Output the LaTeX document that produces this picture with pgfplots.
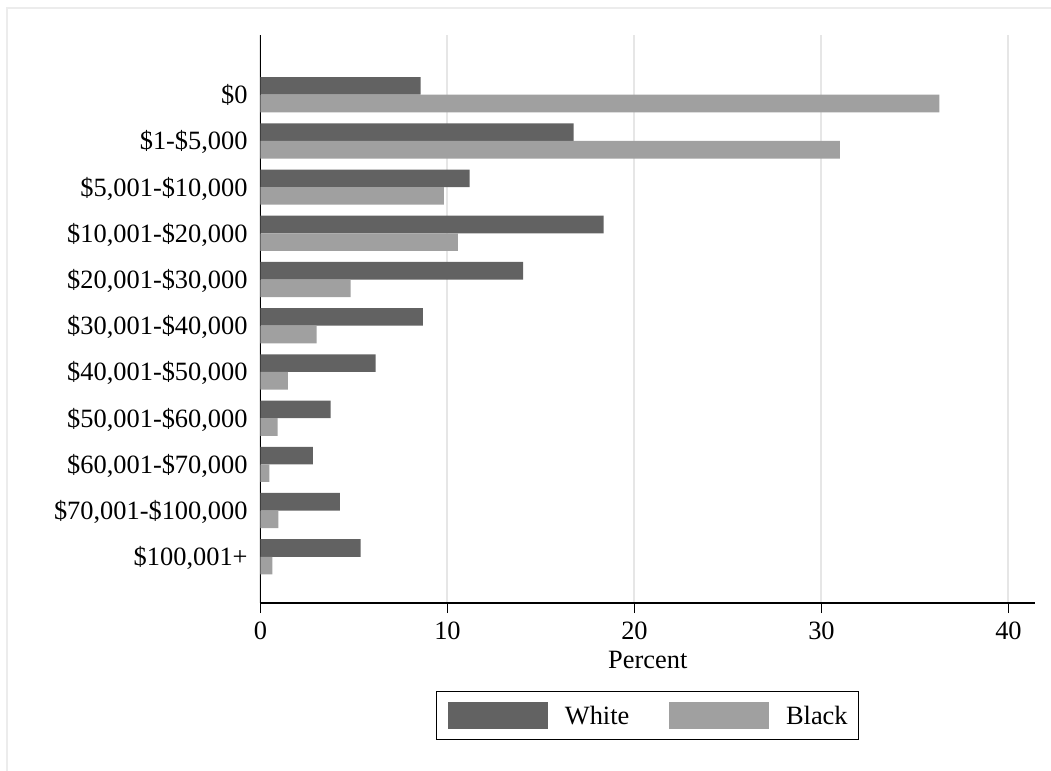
\documentclass[border=0pt]{standalone}
\usepackage{pgfplots}
\pgfplotsset{compat=1.18}
\usepackage{fontspec}
\setmainfont{Liberation Serif}
\definecolor{wbar}{RGB}{98,98,98}
\definecolor{bbar}{RGB}{160,160,160}
\definecolor{gridc}{RGB}{230,230,230}
\definecolor{framec}{RGB}{236,236,236}
\pgfplotsset{
  mylegend/.style={legend image code/.code={\fill[##1] (0pt,-2.3pt) rectangle (50pt,11.05pt);}}
}
\begin{document}
\fontsize{13.2}{15.8}\selectfont
\begin{tikzpicture}
\useasboundingbox (-130.25pt,-84pt) rectangle (395.25pt,301.5pt);
\draw[framec, line width=1pt] (-126.9pt,-84pt) -- (-126.9pt,297.5pt) -- (395.25pt,297.5pt);
\begin{axis}[
  at={(0pt,0pt)}, anchor=south west,
  scale only axis, width=387.25pt, height=284pt,
  xmin=0, xmax=41.42, ymin=-1.0, ymax=11.292,
  axis x line*=bottom, axis y line*=left,
  axis line style={-, line width=0.6pt, black},
  xtick={0,10,20,30,40},
  xmajorgrids, grid style={gridc, line width=1pt},
  tick align=outside, major tick length=5pt,
  x tick style={black, line width=0.6pt},
  y tick style={draw=none},
  ytick={0,1,2,3,4,5,6,7,8,9,10},
  yticklabels={{\$100,001+},{\$70,001-\$100,000},{\$60,001-\$70,000},{\$50,001-\$60,000},{\$40,001-\$50,000},{\$30,001-\$40,000},{\$20,001-\$30,000},{\$10,001-\$20,000},{\$5,001-\$10,000},{\$1-\$5,000},{\$0}},
  yticklabel style={anchor=base east, inner sep=0pt, xshift=-1.25pt, yshift=-4.46pt},
  xticklabel style={anchor=north, inner sep=0pt, yshift=-4.35pt},
  /pgf/number format/assume math mode=true,
  xlabel={Percent},
  xlabel style={at={(axis description cs:0.5,0)}, anchor=north, inner sep=0pt, yshift=-24pt},
  legend columns=2,
  legend style={at={(0.5,-0.15493)}, anchor=north, draw=black, line width=0.6pt,
    inner xsep=5.5pt, inner ysep=5.4pt,
    nodes={inner sep=0pt, anchor=base west},
    /tikz/every odd column/.append style={column sep=8.5pt},
    /tikz/every even column/.append style={column sep=19.85pt}},
]
\addplot[xbar, bar width=8.8pt, bar shift=4.4pt, fill=wbar, draw=none, mylegend] coordinates {
(8.57,10) (16.75,9) (11.19,8) (18.35,7) (14.05,6) (8.68,5) (6.16,4) (3.75,3) (2.8,2) (4.25,1) (5.36,0)};
\addlegendentry{White}
\addplot[xbar, bar width=8.8pt, bar shift=-4.4pt, fill=bbar, draw=none, mylegend] coordinates {
(36.3,10) (30.98,9) (9.81,8) (10.55,7) (4.82,6) (3.0,5) (1.46,4) (0.91,3) (0.48,2) (0.96,1) (0.64,0)};
\addlegendentry{Black}
\end{axis}
\end{tikzpicture}
\end{document}
